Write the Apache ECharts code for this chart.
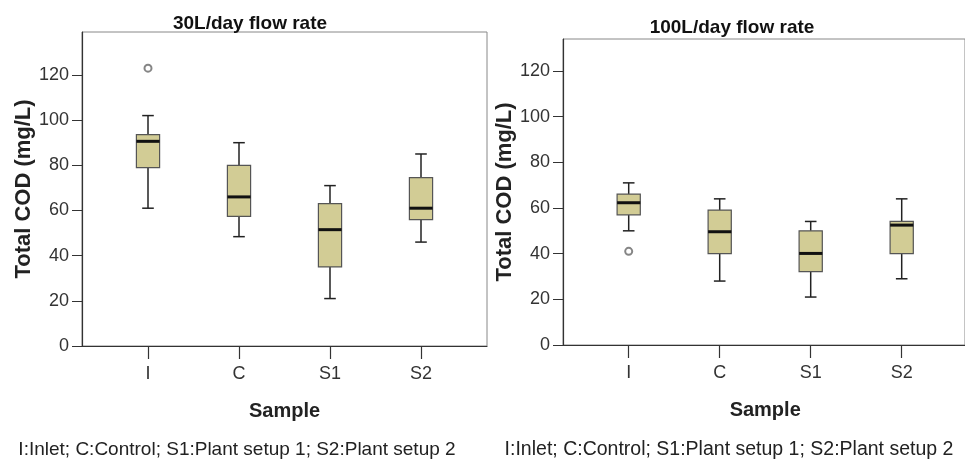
<!DOCTYPE html>
<html>
<head>
<meta charset="utf-8">
<script src="https://cdn.jsdelivr.net/npm/echarts@6/dist/echarts.min.js"></script>
<style>
html, body { margin: 0; padding: 0; background: #fff; }
#chart { width: 965px; height: 464px; }
</style>
</head>
<body>
<div id="chart"></div>
<script>
// samples on the x axis
var categories = ['I', 'C', 'S1', 'S2'];
// box values per sample: [lower whisker, Q1, median, Q3, upper whisker]
var box30 = [
    [61, 79, 90.6, 93.6, 102],
    [48.4, 57.4, 66, 80, 90],
    [21, 35, 51.5, 63, 71],
    [46, 55.9, 61, 74.5, 85]
];
var box100 = [
    [50, 57, 62.3, 66.1, 71],
    [28, 40, 49.6, 59.1, 64],
    [21, 32.1, 40.1, 50, 54.1],
    [29, 40, 52.5, 54.1, 64]
];
// outliers: [sample index, value]
var out30 = [[0, 123]];
var out100 = [[0, 41]];
var yMax30 = 139;
var yMax100 = 134;
var yTicks = [0, 20, 40, 60, 80, 100, 120];
var titles = ['30L/day flow rate', '100L/day flow rate'];
var yName = 'Total COD (mg/L)';
var xName = 'Sample';
var footnote = 'I:Inlet; C:Control; S1:Plant setup 1; S2:Plant setup 2';

var FONT = '"Liberation Sans Narrow", "Liberation Sans", Arial, sans-serif';
var BOXFILL = '#d2cc95';

function toBoxData(rows) {
    var arr = [];
    for (var i = 0; i < rows.length; i++) {
        arr.push([i].concat(rows[i]));
    }
    return arr;
}

// SPSS-style box: short whisker caps, thick median
function renderBox(params, api) {
    var x = api.value(0);
    var lo = api.coord([x, api.value(1)]);
    var q1 = api.coord([x, api.value(2)]);
    var med = api.coord([x, api.value(3)]);
    var q3 = api.coord([x, api.value(4)]);
    var hi = api.coord([x, api.value(5)]);
    var band = api.size([1, 0])[0];
    var bw = band * 0.255;
    var cw = bw * 0.5;
    var cx = lo[0];
    var line = { stroke: '#222', lineWidth: 1.5 };
    return {
        type: 'group',
        children: [
            { type: 'line', shape: { x1: cx, y1: hi[1], x2: cx, y2: q3[1] }, style: line },
            { type: 'line', shape: { x1: cx, y1: q1[1], x2: cx, y2: lo[1] }, style: line },
            { type: 'line', shape: { x1: cx - cw / 2, y1: hi[1], x2: cx + cw / 2, y2: hi[1] }, style: line },
            { type: 'line', shape: { x1: cx - cw / 2, y1: lo[1], x2: cx + cw / 2, y2: lo[1] }, style: line },
            { type: 'rect', shape: { x: cx - bw / 2, y: q3[1], width: bw, height: q1[1] - q3[1] },
              style: { fill: BOXFILL, stroke: '#555', lineWidth: 1.2 } },
            { type: 'line', shape: { x1: cx - bw / 2, y1: med[1], x2: cx + bw / 2, y2: med[1] },
              style: { stroke: '#111', lineWidth: 3 } }
        ]
    };
}

function frameY(idx, max, nameGap) {
    return {
        type: 'value', gridIndex: idx, min: 0, max: max,
        name: yName, nameLocation: 'middle', nameGap: nameGap,
        nameTextStyle: { fontFamily: FONT, fontWeight: 'bold', fontSize: 22, color: '#222' },
        axisLine: { show: true, lineStyle: { color: '#333', width: 1.2 } },
        axisTick: { show: true, length: 10, customValues: yTicks, lineStyle: { color: '#333' } },
        axisLabel: { margin: 13, fontFamily: FONT, fontSize: 18, color: '#333', customValues: yTicks },
        splitLine: { show: false }
    };
}

function boxY(idx, max) {
    return { type: 'value', gridIndex: idx, min: 0, max: max, show: false, splitLine: { show: false } };
}

function boxX(idx) {
    return {
        type: 'category', gridIndex: idx, data: categories, boundaryGap: true,
        name: xName, nameLocation: 'middle', nameGap: 55,
        nameTextStyle: { fontFamily: FONT, fontWeight: 'bold', fontSize: 20, color: '#222' },
        axisLine: { show: false },
        axisTick: { show: true, alignWithLabel: true, length: 13, lineStyle: { color: '#333', width: 1.2 } },
        axisLabel: { margin: 19, fontFamily: FONT, fontSize: 18, color: '#333' },
        splitLine: { show: false }
    };
}

var option = {
    backgroundColor: '#fff',
    animation: false,
    title: [
        { text: titles[0], left: 245, top: 9, textAlign: 'center',
          textStyle: { fontFamily: FONT, fontWeight: 'bold', fontSize: 19, color: '#111' } },
        { text: titles[1], left: 727, top: 13, textAlign: 'center',
          textStyle: { fontFamily: FONT, fontWeight: 'bold', fontSize: 19, color: '#111' } },
        { text: footnote, left: 232, top: 435, textAlign: 'center',
          textStyle: { fontFamily: FONT, fontWeight: 'normal', fontSize: 19, color: '#222' } },
        { text: footnote, left: 724, top: 435, textAlign: 'center',
          textStyle: { fontFamily: FONT, fontWeight: 'normal', fontSize: 19.5, color: '#222' } }
    ],
    grid: [
        { left: 82, top: 32, width: 405, height: 314, show: true, borderColor: '#888', borderWidth: 1, backgroundColor: 'transparent' },
        { left: 102.5, top: 32, width: 364, height: 314 },
        { left: 563, top: 39, width: 406, height: 306, show: true, borderColor: '#888', borderWidth: 1, backgroundColor: 'transparent' },
        { left: 583.2, top: 39, width: 364, height: 306 }
    ],
    xAxis: [
        { type: 'value', gridIndex: 0, show: true, axisLabel: { show: false }, axisTick: { show: false },
          axisLine: { show: true, lineStyle: { color: '#333', width: 1.2 } }, splitLine: { show: false } },
        boxX(1),
        { type: 'value', gridIndex: 2, show: true, axisLabel: { show: false }, axisTick: { show: false },
          axisLine: { show: true, lineStyle: { color: '#333', width: 1.2 } }, splitLine: { show: false } },
        boxX(3)
    ],
    yAxis: [
        frameY(0, yMax30, 44),
        boxY(1, yMax30),
        frameY(2, yMax100, 44),
        boxY(3, yMax100)
    ],
    series: [
        { type: 'custom', xAxisIndex: 1, yAxisIndex: 1, renderItem: renderBox, data: toBoxData(box30), z: 3 },
        { type: 'scatter', xAxisIndex: 1, yAxisIndex: 1, data: out30, symbol: 'emptyCircle', symbolSize: 7,
          itemStyle: { color: '#666', borderColor: '#666', borderWidth: 1.2 }, z: 4 },
        { type: 'custom', xAxisIndex: 3, yAxisIndex: 3, renderItem: renderBox, data: toBoxData(box100), z: 3 },
        { type: 'scatter', xAxisIndex: 3, yAxisIndex: 3, data: out100, symbol: 'emptyCircle', symbolSize: 7,
          itemStyle: { color: '#666', borderColor: '#666', borderWidth: 1.2 }, z: 4 }
    ]
};

var chart = echarts.init(document.getElementById('chart'));
chart.setOption(option);
</script>
</body>
</html>
